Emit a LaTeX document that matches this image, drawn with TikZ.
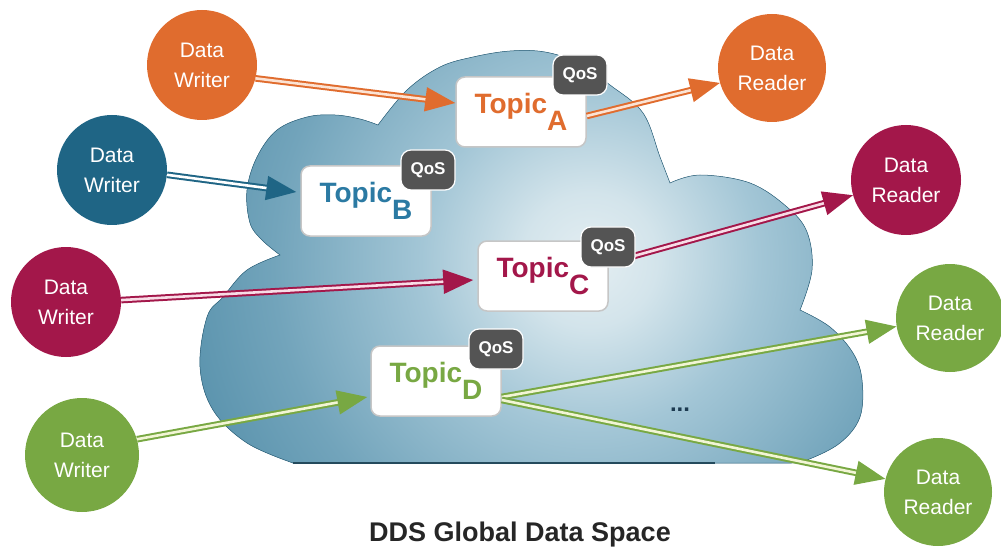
\documentclass[tikz,border=0pt]{standalone}
\usepackage{fontspec}
\setmainfont{Liberation Sans}
\usetikzlibrary{arrows.meta}
\definecolor{cOr}{HTML}{E06C2E}
\definecolor{cOrL}{HTML}{FBE3D4}
\definecolor{cBl}{HTML}{1F6585}
\definecolor{cBlT}{HTML}{2B7AA3}
\definecolor{cMa}{HTML}{A3174A}
\definecolor{cMaL}{HTML}{F8DCE6}
\definecolor{cGr}{HTML}{78A843}
\definecolor{cGrL}{HTML}{F2F5D5}
\definecolor{cQ}{HTML}{545454}
\definecolor{cS0}{HTML}{E4EEF2}
\definecolor{cS1}{HTML}{D3E4EB}
\definecolor{cS2}{HTML}{A3C6D6}
\definecolor{cS3}{HTML}{72A4BB}
\definecolor{cS4}{HTML}{5A93AD}
\definecolor{cS5}{HTML}{3C7B99}
\definecolor{cDot}{HTML}{1C3A50}
\pgfdeclareradialshading{cloudshade}{\pgfpoint{0bp}{0bp}}{color(0bp)=(cS0); color(3.8bp)=(cS1); color(9.6bp)=(cS2); color(18bp)=(cS3); color(23.8bp)=(cS4); color(32.2bp)=(cS5); color(50bp)=(cS5)}
\def\cloudpath{(293,463) -- plot[smooth,tension=0.6] coordinates {(293,463) (247,443) (213,410) (200,367) (207,317) (223,297) (247,270) (280,255)}
 -- plot[smooth,tension=0.6] coordinates {(280,255) (262,240) (250,223) (247,190) (257,157) (277,130) (307,117) (335,115) (360,119) (378,125)}
 -- plot[smooth,tension=0.6] coordinates {(378,125) (407,90) (440,67) (473,57) (510,51) (545,52) (578,63) (610,85) (643,113) (660,157) (670,183)}
 -- plot[smooth,tension=0.6] coordinates {(670,183) (700,175) (750,183) (787,207) (807,232) (812,270) (800,310)}
 -- plot[smooth,tension=0.6] coordinates {(800,310) (830,327) (853,353) (862,380) (860,417) (840,443) (807,460) (790,463)} -- cycle}
\begin{document}
\begin{tikzpicture}[x=1pt,y=-1pt,
 circ/.style={circle, fill=#1, minimum size=110pt, inner sep=0pt, text=white, align=center, font=\fontsize{21}{30}\selectfont},
 topicbox/.style={draw=gray!45, line width=1.5pt, fill=white, rounded corners=9pt, minimum width=130pt, minimum height=70pt, inner sep=0pt, text=#1, font=\bfseries\fontsize{28}{30}\selectfont},
 qos/.style={fill=cQ, draw=white, line width=1.2pt, rounded corners=10pt, minimum width=54pt, minimum height=40pt, inner sep=0pt, text=white, font=\bfseries\fontsize{17}{17}\selectfont},
 flow/.style 2 args={draw=#1, line width=2pt, double=#2, double distance=2.6pt, -{Triangle[length=30pt,width=24pt,fill=#1]}}]
\useasboundingbox (0,0) rectangle (1001,548);
% cloud
\fill[cS5] \cloudpath;
\begin{scope}
\clip \cloudpath;
\shade[shading=cloudshade] (590,260) circle (440pt);
\end{scope}
\draw[cS5!80!black, line width=0.5pt] \cloudpath;
\draw[cS5!60!black, line width=1.2pt] (293,463) -- (715,463);
% topics
\node[topicbox=cOr] (tA) at (521,112) {Topic\raisebox{-17pt}{A}};
\node[topicbox=cBlT] (tB) at (366,201) {Topic\raisebox{-17pt}{B}};
\node[topicbox=cMa] (tC) at (543,276) {Topic\raisebox{-17pt}{C}};
\node[topicbox=cGr] (tD) at (436,381) {Topic\raisebox{-17pt}{D}};
% circles
\node[circ=cOr] (wA) at (202,65) {Data\\Writer};
\node[circ=cBl] (wB) at (112,170) {Data\\Writer};
\node[circ=cMa] (wC) at (66,302) {Data\\Writer};
\node[circ=cGr, minimum size=114pt] (wD) at (82,455) {Data\\Writer};
\node[circ=cOr, minimum size=108pt] (rA) at (772,68) {Data\\Reader};
\node[circ=cMa] (rC) at (906,180) {Data\\Reader};
\node[circ=cGr, minimum size=108pt] (rD1) at (950,318) {Data\\Reader};
\node[circ=cGr, minimum size=108pt] (rD2) at (938,492) {Data\\Reader};
% arrows
\draw[flow={cOr}{cOrL}] (wA.-14) -- ([yshift=9pt]tA.west);
\draw[flow={cOr}{cOrL}] ([yshift=-4pt]tA.east) -- (rA.196);
\draw[flow={cBl}{white}] (wB.-5) -- ([xshift=-4pt,yshift=9pt]tB.west);
\draw[flow={cMa}{cMaL}] (wC.2) -- ([xshift=-4pt,yshift=-4pt]tC.west);
\draw[flow={cMa}{cMaL}] ([yshift=13pt]tC.east) -- (rC.196);
\draw[flow={cGr}{cGrL}] (wD.16) -- ([xshift=-3pt,yshift=-16pt]tD.west);
\draw[flow={cGr}{cGrL}] ([yshift=-16pt]tD.east) -- (rD1.189);
\draw[flow={cGr}{cGrL}] ([yshift=-19pt]tD.east) -- (rD2.166);
% qos badges
\node[qos] (qA) at (580,75) {QoS};
\node[qos] (qB) at (428,170) {QoS};
\node[qos] (qC) at (608,247) {QoS};
\node[qos] (qD) at (496,349) {QoS};
% misc
\node[font=\bfseries\fontsize{24}{24}\selectfont, text=cDot] (dots) at (680,410) {...};
\node[font=\bfseries\fontsize{27}{27}\selectfont, text=black!85] (title) at (520,535) {DDS Global Data Space};
\end{tikzpicture}
\end{document}
